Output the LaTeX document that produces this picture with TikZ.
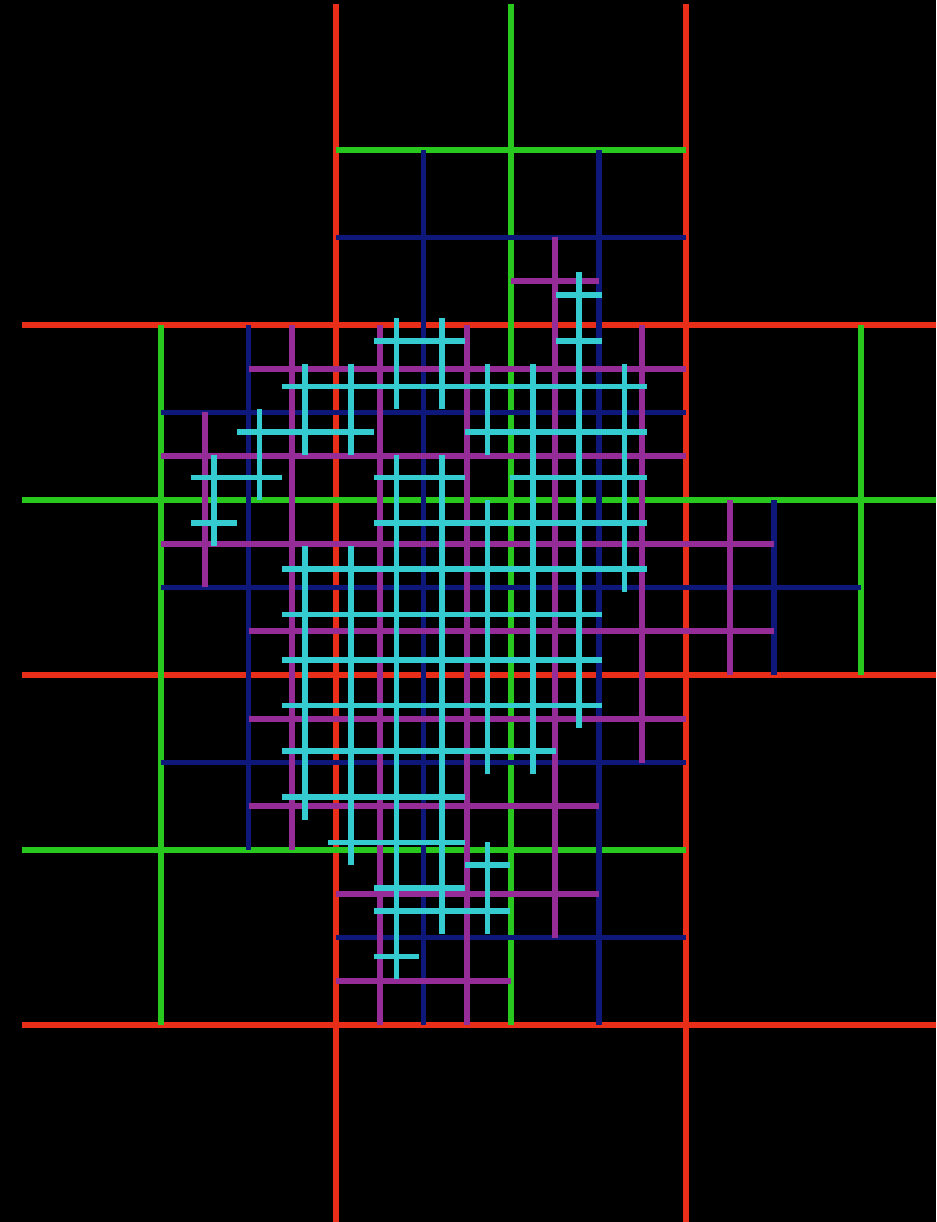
\documentclass[tikz,border=0pt]{standalone}
\usepackage{tikz}
\definecolor{qred}{RGB}{232,46,24}
\definecolor{qgreen}{RGB}{40,200,30}
\definecolor{qblue}{RGB}{14,24,122}
\definecolor{qpurple}{RGB}{150,44,152}
\definecolor{qcyan}{RGB}{52,204,208}
\tikzset{
    redline/.style={
        qred,
        line width=1.9pt
    },
    greenline/.style={
        qgreen,
        line width=1.5pt
    },
    blueline/.style={
        qblue,
        line width=1.7pt
    },
    purpleline/.style={
        qpurple,
        line width=1.6pt
    },
    cyanline/.style={
        qcyan,
        line width=1.6pt
    }
}

\begin{document}
\begin{tikzpicture}

\fill[black] (0,0) rectangle (9.36,-12.22);
\useasboundingbox (0,0) rectangle (9.36,-12.22);
\clip (0.22,-0.05) rectangle (9.36,-12.22);

% one unit = one cell of the finest level
\begin{scope}[shift={(3.36cm,-3.25cm)}, x=0.21875cm, y=-0.21875cm]
% level 0
\foreach \u in {0,16}
    \draw[redline] (\u,-20) -- (\u,45);
\foreach \v in {0,16,32}
    \draw[redline] (-20,\v) -- (30,\v);
% level 1
\foreach \u/\v in {8/-8, 8/8, -8/8, 24/8, -8/24, 8/24}
    \draw[greenline] ({\u-8},\v) -- ({\u+8},\v) (\u,{\v-8}) -- (\u,{\v+8});
% level 2
\foreach \u/\v in {4/-4, 12/-4, -4/4, 4/4, 12/4, -4/12, 4/12, 12/12, 20/12,
                   -4/20, 4/20, 12/20, 4/28, 12/28}
    \draw[blueline] ({\u-4},\v) -- ({\u+4},\v) (\u,{\v-4}) -- (\u,{\v+4});
% level 3
\foreach \v/\us in {-2/{10}, 2/{-2,2,6,10,14}, 6/{-6,-2,2,6,10,14},
                    10/{-6,-2,2,6,10,14,18}, 14/{-2,2,6,10,14,18},
                    18/{-2,2,6,10,14}, 22/{-2,2,6,10}, 26/{2,6,10}, 30/{2,6}}
    \foreach \u in \us
        \draw[purpleline] ({\u-2},\v) -- ({\u+2},\v) (\u,{\v-2}) -- (\u,{\v+2});
\end{scope}

% level 4, drawn on its own slightly wider grid
\begin{scope}[shift={(3.28cm,-3.18cm)}, x=0.228cm, y=-0.228cm]
\foreach \v/\us in {-1/{11}, 1/{3,5,11}, 3/{-1,1,3,5,7,9,11,13},
                    5/{-3,-1,1,7,9,11,13}, 7/{-5,-3,3,5,9,11,13},
                    9/{-5,3,5,7,9,11,13}, 11/{-1,1,3,5,7,9,11,13},
                    13/{-1,1,3,5,7,9,11}, 15/{-1,1,3,5,7,9,11},
                    17/{-1,1,3,5,7,9,11}, 19/{-1,1,3,5,7,9},
                    21/{-1,1,3,5}, 23/{1,3,5}, 24/{7}, 25/{3,5},
                    26/{3,5,7}, 28/{3}}
    \foreach \u in \us
        \draw[cyanline] ({\u-1},\v) -- ({\u+1},\v) (\u,{\v-1}) -- (\u,{\v+1});
\end{scope}

\end{tikzpicture}
\end{document}
